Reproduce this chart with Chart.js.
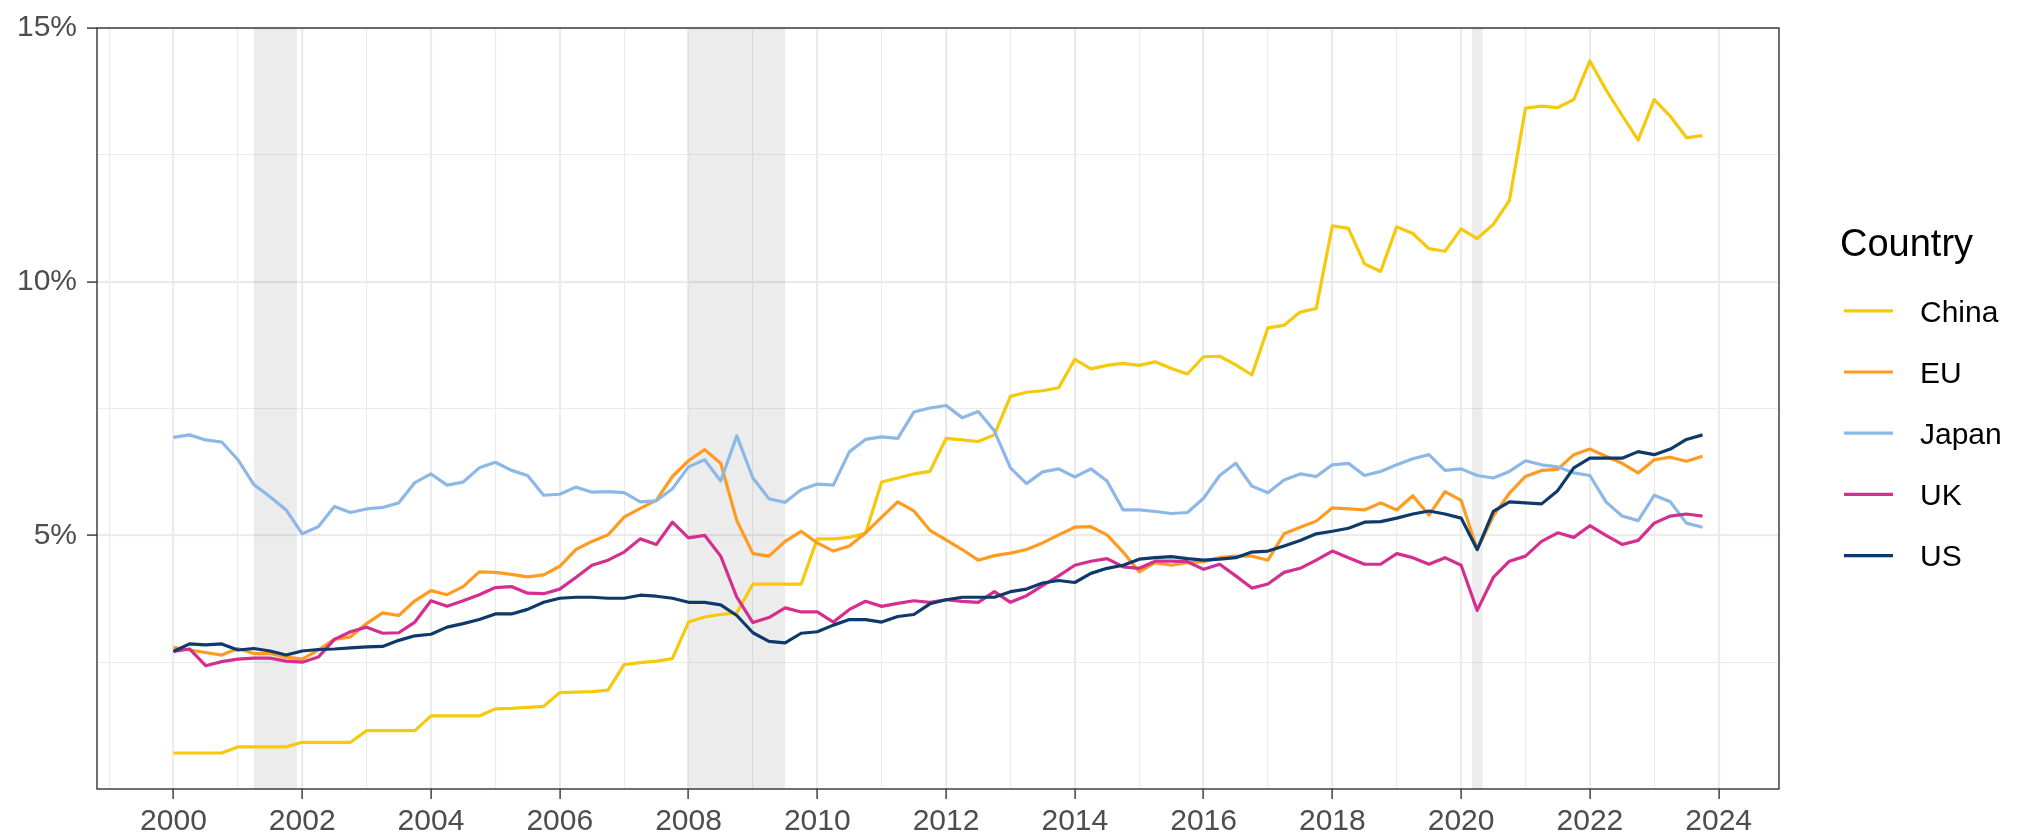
<!DOCTYPE html>
<html>
<head>
<meta charset="utf-8">
<script src="https://cdn.jsdelivr.net/npm/chart.js@4/dist/chart.umd.min.js"></script>
<style>
  html, body { margin: 0; padding: 0; background: #ffffff; }
  canvas { display: block; }
</style>
</head>
<body>
<canvas id="c" width="2018" height="840" style="width:2018px;height:840px"></canvas>
<script>
// ---- Data (quarterly, 2000Q1 .. 2023Q4), percent ----
const firstYear = 2000;
const lastYear = 2023;

const china = [
  0.71,0.71,0.71,0.71, 0.83,0.83,0.83,0.83, 0.92,0.92,0.92,0.92, 1.15,1.15,1.15,1.15,
  1.44,1.44,1.44,1.44, 1.58,1.59,1.61,1.63, 1.90,1.91,1.92,1.95, 2.45,2.49,2.52,2.57,
  3.29,3.39,3.44,3.47, 4.04,4.04,4.04,4.04, 4.93,4.93,4.96,5.04, 6.05,6.13,6.21,6.26,
  6.91,6.88,6.85,6.98, 7.74,7.82,7.85,7.91, 8.47,8.28,8.35,8.39, 8.35,8.42,8.29,8.18,
  8.52,8.53,8.36,8.16, 9.09,9.14,9.40,9.47, 11.10,11.05,10.35,10.20, 11.08,10.95,10.65,10.60,
  11.04,10.85,11.13,11.60, 13.42,13.46,13.43,13.59, 14.35,13.78,13.28,12.79, 13.59,13.26,12.84,12.88
];
const eu = [
  2.79,2.74,2.69,2.64, 2.77,2.67,2.67,2.60, 2.56,2.74,2.95,3.00, 3.26,3.47,3.42,3.71,
  3.91,3.83,3.99,4.28, 4.27,4.23,4.18,4.22, 4.39,4.72,4.88,5.01, 5.36,5.53,5.69,6.16,
  6.47,6.69,6.42,5.29, 4.64,4.59,4.88,5.08, 4.85,4.69,4.79,5.05, 5.36,5.66,5.48,5.10,
  4.91,4.72,4.51,4.60, 4.65,4.72,4.85,5.01, 5.16,5.17,5.01,4.67, 4.28,4.46,4.41,4.46,
  4.48,4.56,4.59,4.59, 4.51,5.03,5.16,5.28, 5.54,5.52,5.50,5.64, 5.50,5.78,5.40,5.86,
  5.69,4.72,5.38,5.83, 6.16,6.28,6.30,6.59, 6.70,6.56,6.42,6.23, 6.49,6.54,6.46,6.56
];
const japan = [
  6.93,6.98,6.88,6.84, 6.49,6.00,5.76,5.50, 5.03,5.17,5.57,5.45, 5.52,5.55,5.64,6.04,
  6.21,5.99,6.05,6.33, 6.44,6.28,6.18,5.79, 5.81,5.95,5.85,5.86, 5.84,5.66,5.68,5.92,
  6.35,6.49,6.07,6.96, 6.13,5.72,5.65,5.90, 6.01,5.99,6.65,6.89, 6.94,6.91,7.43,7.51,
  7.56,7.32,7.44,7.06, 6.33,6.02,6.25,6.31, 6.15,6.31,6.07,5.50, 5.50,5.47,5.43,5.45,
  5.73,6.18,6.42,5.97, 5.84,6.09,6.21,6.16, 6.39,6.42,6.18,6.26, 6.39,6.51,6.59,6.28,
  6.31,6.18,6.13,6.26, 6.47,6.39,6.35,6.23, 6.18,5.66,5.38,5.29, 5.79,5.66,5.24,5.16
];
const uk = [
  2.71,2.76,2.43,2.51, 2.56,2.58,2.58,2.52, 2.50,2.60,2.95,3.10, 3.19,3.07,3.08,3.29,
  3.71,3.60,3.71,3.83, 3.97,3.99,3.86,3.85, 3.94,4.17,4.41,4.51, 4.67,4.93,4.82,5.26,
  4.95,5.00,4.59,3.78, 3.28,3.38,3.57,3.49, 3.49,3.29,3.54,3.70, 3.60,3.66,3.71,3.68,
  3.73,3.70,3.68,3.89, 3.68,3.81,4.01,4.20, 4.41,4.49,4.54,4.38, 4.35,4.49,4.49,4.48,
  4.33,4.43,4.20,3.96, 4.04,4.27,4.35,4.51, 4.69,4.56,4.43,4.43, 4.64,4.56,4.43,4.56,
  4.41,3.52,4.17,4.49, 4.59,4.88,5.05,4.96, 5.19,5.00,4.82,4.90, 5.24,5.38,5.42,5.38
];
const us = [
  2.71,2.86,2.84,2.86, 2.74,2.77,2.72,2.64, 2.72,2.75,2.76,2.78, 2.80,2.81,2.93,3.02,
  3.05,3.19,3.26,3.34, 3.45,3.45,3.54,3.68, 3.76,3.78,3.78,3.76, 3.76,3.82,3.80,3.76,
  3.68,3.68,3.63,3.42, 3.08,2.91,2.88,3.07, 3.10,3.23,3.34,3.34, 3.29,3.40,3.44,3.65,
  3.73,3.78,3.78,3.78, 3.89,3.94,4.06,4.11, 4.07,4.25,4.35,4.41, 4.53,4.56,4.58,4.54,
  4.51,4.53,4.56,4.67, 4.69,4.79,4.90,5.03, 5.08,5.14,5.26,5.27, 5.34,5.42,5.48,5.42,
  5.34,4.72,5.47,5.66, 5.64,5.62,5.88,6.33, 6.52,6.52,6.52,6.65, 6.59,6.70,6.89,6.98
];

const countries = ["China", "EU", "Japan", "UK", "US"];
const seriesValues = [china, eu, japan, uk, us];
const colors = ["#F5C90C", "#FF9B21", "#8CB8E8", "#D42E8E", "#0E3A6B"];

// recession shading periods (fractional years)
const bandStarts = [2001.25, 2008.0, 2020.167];
const bandEnds   = [2001.917, 2009.5, 2020.333];

// ticks
const xTickYears = [];
for (let y = 1999; y <= 2024; y++) xTickYears.push(y);
const yTickValues = [2.5, 5, 7.5, 10, 12.5, 15];
const yTickLabels = { 5: "5%", 10: "10%", 15: "15%" };

// quarter positions on the time axis
const quarterTimes = [];
for (let y = firstYear; y <= lastYear; y++) for (let q = 0; q < 4; q++) quarterTimes.push(y + q / 4);

// ---- Plugins ----
const FONT = "'Liberation Sans', Arial, Helvetica, sans-serif";

const bandsPlugin = {
  id: 'bands',
  beforeDatasetsDraw(chart) {
    const { ctx, chartArea, scales } = chart;
    ctx.save();
    ctx.fillStyle = 'rgba(0,0,0,0.075)';
    for (let i = 0; i < bandStarts.length; i++) {
      const x0 = scales.x.getPixelForValue(bandStarts[i]);
      const x1 = scales.x.getPixelForValue(bandEnds[i]);
      ctx.fillRect(x0, chartArea.top, x1 - x0, chartArea.bottom - chartArea.top);
    }
    ctx.restore();
  }
};

const framePlugin = {
  id: 'frame',
  afterDraw(chart) {
    const { ctx, chartArea } = chart;
    ctx.save();
    ctx.strokeStyle = '#333333';
    ctx.lineWidth = 1.4;
    ctx.strokeRect(chartArea.left, chartArea.top, chartArea.right - chartArea.left, chartArea.bottom - chartArea.top);

    // legend
    ctx.fillStyle = '#000000';
    ctx.textBaseline = 'alphabetic';
    ctx.textAlign = 'left';
    ctx.font = "38px " + FONT;
    ctx.fillText("Country", 1840, 256);
    ctx.font = "30px " + FONT;
    chart.data.datasets.forEach((ds, i) => {
      const cy = 310.8 + i * 61.2;
      ctx.strokeStyle = ds.borderColor;
      ctx.lineWidth = 3.2;
      ctx.beginPath();
      ctx.moveTo(1844, cy);
      ctx.lineTo(1893, cy);
      ctx.stroke();
      ctx.fillStyle = '#000000';
      ctx.fillText(ds.label, 1920, cy + 10.8);
    });
    ctx.restore();
  }
};

// ---- Chart ----
const datasets = countries.map((name, i) => ({
  label: name,
  data: seriesValues[i].map((v, k) => ({ x: quarterTimes[k], y: v })),
  borderColor: colors[i],
  backgroundColor: colors[i],
  borderWidth: 3.2,
  borderJoinStyle: 'round',
  pointRadius: 0,
  tension: 0,
  fill: false,
  order: countries.length - 1 - i
}));

new Chart(document.getElementById('c'), {
  type: 'line',
  data: { datasets },
  options: {
    responsive: false,
    animation: false,
    events: [],
    layout: { padding: { left: 0, right: 239, top: 21, bottom: 0 } },
    plugins: { legend: { display: false }, tooltip: { enabled: false }, title: { display: false } },
    scales: {
      x: {
        type: 'linear',
        min: 1998.8125,
        max: 2024.9375,
        afterBuildTicks: (s) => { s.ticks = xTickYears.map(v => ({ value: v })); },
        afterFit: (s) => { s.height = 51; },
        border: { display: false },
        grid: {
          color: '#EBEBEB',
          lineWidth: (c) => (c.tick && c.tick.value % 2 === 0 ? 2.2 : 1.1),
          tickColor: (c) => (c.tick && c.tick.value % 2 === 0 ? '#333333' : 'rgba(0,0,0,0)'),
          tickWidth: 1.4,
          tickLength: 10,
          drawTicks: true
        },
        ticks: {
          autoSkip: false,
          maxRotation: 0,
          minRotation: 0,
          padding: 5,
          color: '#4D4D4D',
          font: { family: FONT, size: 30 },
          callback: (v) => (v % 2 === 0 ? String(v) : '')
        }
      },
      y: {
        type: 'linear',
        min: 0,
        max: 15,
        afterBuildTicks: (s) => { s.ticks = yTickValues.map(v => ({ value: v })); },
        afterFit: (s) => { s.width = 97; },
        border: { display: false },
        grid: {
          color: '#EBEBEB',
          lineWidth: (c) => (c.tick && c.tick.value % 5 === 0 ? 2.2 : 1.1),
          tickColor: (c) => (c.tick && c.tick.value % 5 === 0 ? '#333333' : 'rgba(0,0,0,0)'),
          tickWidth: 1.4,
          tickLength: 10,
          drawTicks: true
        },
        ticks: {
          autoSkip: false,
          padding: 10,
          color: '#4D4D4D',
          font: { family: FONT, size: 30 },
          callback: (v) => (yTickLabels[v] || '')
        }
      }
    }
  },
  plugins: [bandsPlugin, framePlugin]
});
</script>
</body>
</html>
